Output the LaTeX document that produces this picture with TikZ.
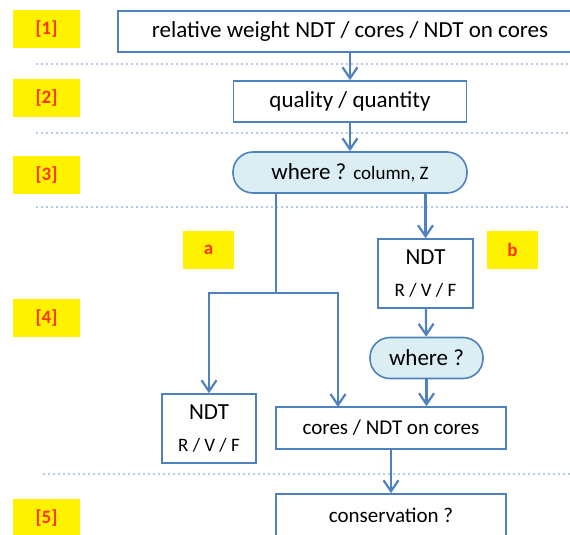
\documentclass[tikz,border=0pt]{standalone}
\usepackage{fontspec}
\setmainfont{Carlito}
\usepackage{xcolor}
\usetikzlibrary{arrows.meta, positioning, calc}
\definecolor{steel}{HTML}{4F81BD}
\definecolor{paleblue}{HTML}{DAEEF3}
\definecolor{sepblue}{HTML}{B4CAE6}
\definecolor{tagred}{HTML}{FF3300}
\tikzstyle{process} = [rectangle, inner sep=0pt, text centered, draw=steel,
                       fill=white, line width=1.6pt, font=\fontsize{23}{26}\selectfont]
\tikzstyle{decision} = [rectangle, rounded corners=20pt, inner sep=0pt, text centered,
                        draw=steel, fill=paleblue, line width=1.6pt,
                        font=\fontsize{23}{26}\selectfont]
\tikzstyle{tag} = [rectangle, inner sep=0pt, fill=yellow, text=tagred,
                   minimum height=38pt, font=\fontsize{19}{21}\selectfont\bfseries]
\tikzstyle{arrow} = [-{Straight Barb[length=11pt, width=15pt]}, line width=2.2pt, draw=steel]
\tikzstyle{link} = [line width=2.2pt, draw=steel]
\tikzstyle{sep} = [dash pattern=on 2pt off 3pt, line width=1.2pt, draw=sepblue]

\begin{document}
\begin{tikzpicture}[x=1pt, y=-1pt]
    \useasboundingbox (0,0) rectangle (570,535);

    % level tags
    \node[tag, minimum width=67pt] (lev1) at (46.5,29) {[1]};
    \node[tag, minimum width=67pt] (lev2) at (46.5,98) {[2]};
    \node[tag, minimum width=67pt] (lev3) at (46.5,175) {[3]};
    \node[tag, minimum width=67pt] (lev4) at (46.5,318) {[4]};
    \node[tag, minimum width=67pt] (lev5) at (46.5,518) {[5]};
    \node[tag, minimum width=51pt] (taga) at (208.5,250) {a};
    \node[tag, minimum width=51pt] (tagb) at (512.5,250) {b};

    % separators
    \coordinate (s1l) at (36,64);  \coordinate (s1r) at (570,64);
    \coordinate (s2l) at (36,133); \coordinate (s2r) at (570,133);
    \coordinate (s3l) at (36,207); \coordinate (s3r) at (570,207);
    \coordinate (s4l) at (43,474); \coordinate (s4r) at (570,474);
    \draw[sep] (s1l) -- (s1r);
    \draw[sep] (s2l) -- (s2r);
    \draw[sep] (s3l) -- (s3r);
    \draw[sep] (s4l) -- (s4r);

    \node[process, minimum width=464pt, minimum height=41pt] (weight) at (350,31.5)
        {relative weight NDT / cores / NDT on cores};
    \node[process, minimum width=233pt, minimum height=41pt] (quality) at (350,101.5)
        {quality / quantity};
    \node[decision, minimum width=234pt, minimum height=41pt] (where) at (350,172.5)
        {where ? {\fontsize{19}{20}\selectfont column, Z}};

    \node[process, minimum width=95pt, minimum height=69pt, align=center] (ndtb) at (425.5,273.5)
        {NDT\\[6pt]{\fontsize{19}{20}\selectfont R / V / F}};
    \node[decision, minimum width=113pt, minimum height=41pt] (whereb) at (426.5,358)
        {where ?};
    \node[process, minimum width=94pt, minimum height=69pt, align=center] (ndta) at (209,428.5)
        {NDT\\[6pt]{\fontsize{19}{20}\selectfont R / V / F}};
    \node[process, minimum width=230pt, minimum height=42pt, font=\fontsize{21}{24}\selectfont] (cores) at (391,428)
        {cores / NDT on cores};
    \node[process, minimum width=230pt, minimum height=42pt, font=\fontsize{21}{24}\selectfont] (conserv) at (391,515)
        {conservation ?};

    \coordinate (split) at (276,293);
    \coordinate (coresin) at (338,407);

    \draw[arrow] (weight.south -| quality) -- (quality);
    \draw[arrow] (quality) -- (where);
    \draw[arrow] (where.south -| ndtb) -- (ndtb);
    \draw[link] (where.south -| split) -- (split);
    \draw[arrow] (split) -| (ndta);
    \draw[arrow] (split) -| (coresin);
    \draw[arrow] (ndtb) -- (whereb);
    \draw[arrow] (whereb) -- (whereb |- cores.north);
    \draw[arrow] (cores) -- (conserv);
\end{tikzpicture}
\end{document}
